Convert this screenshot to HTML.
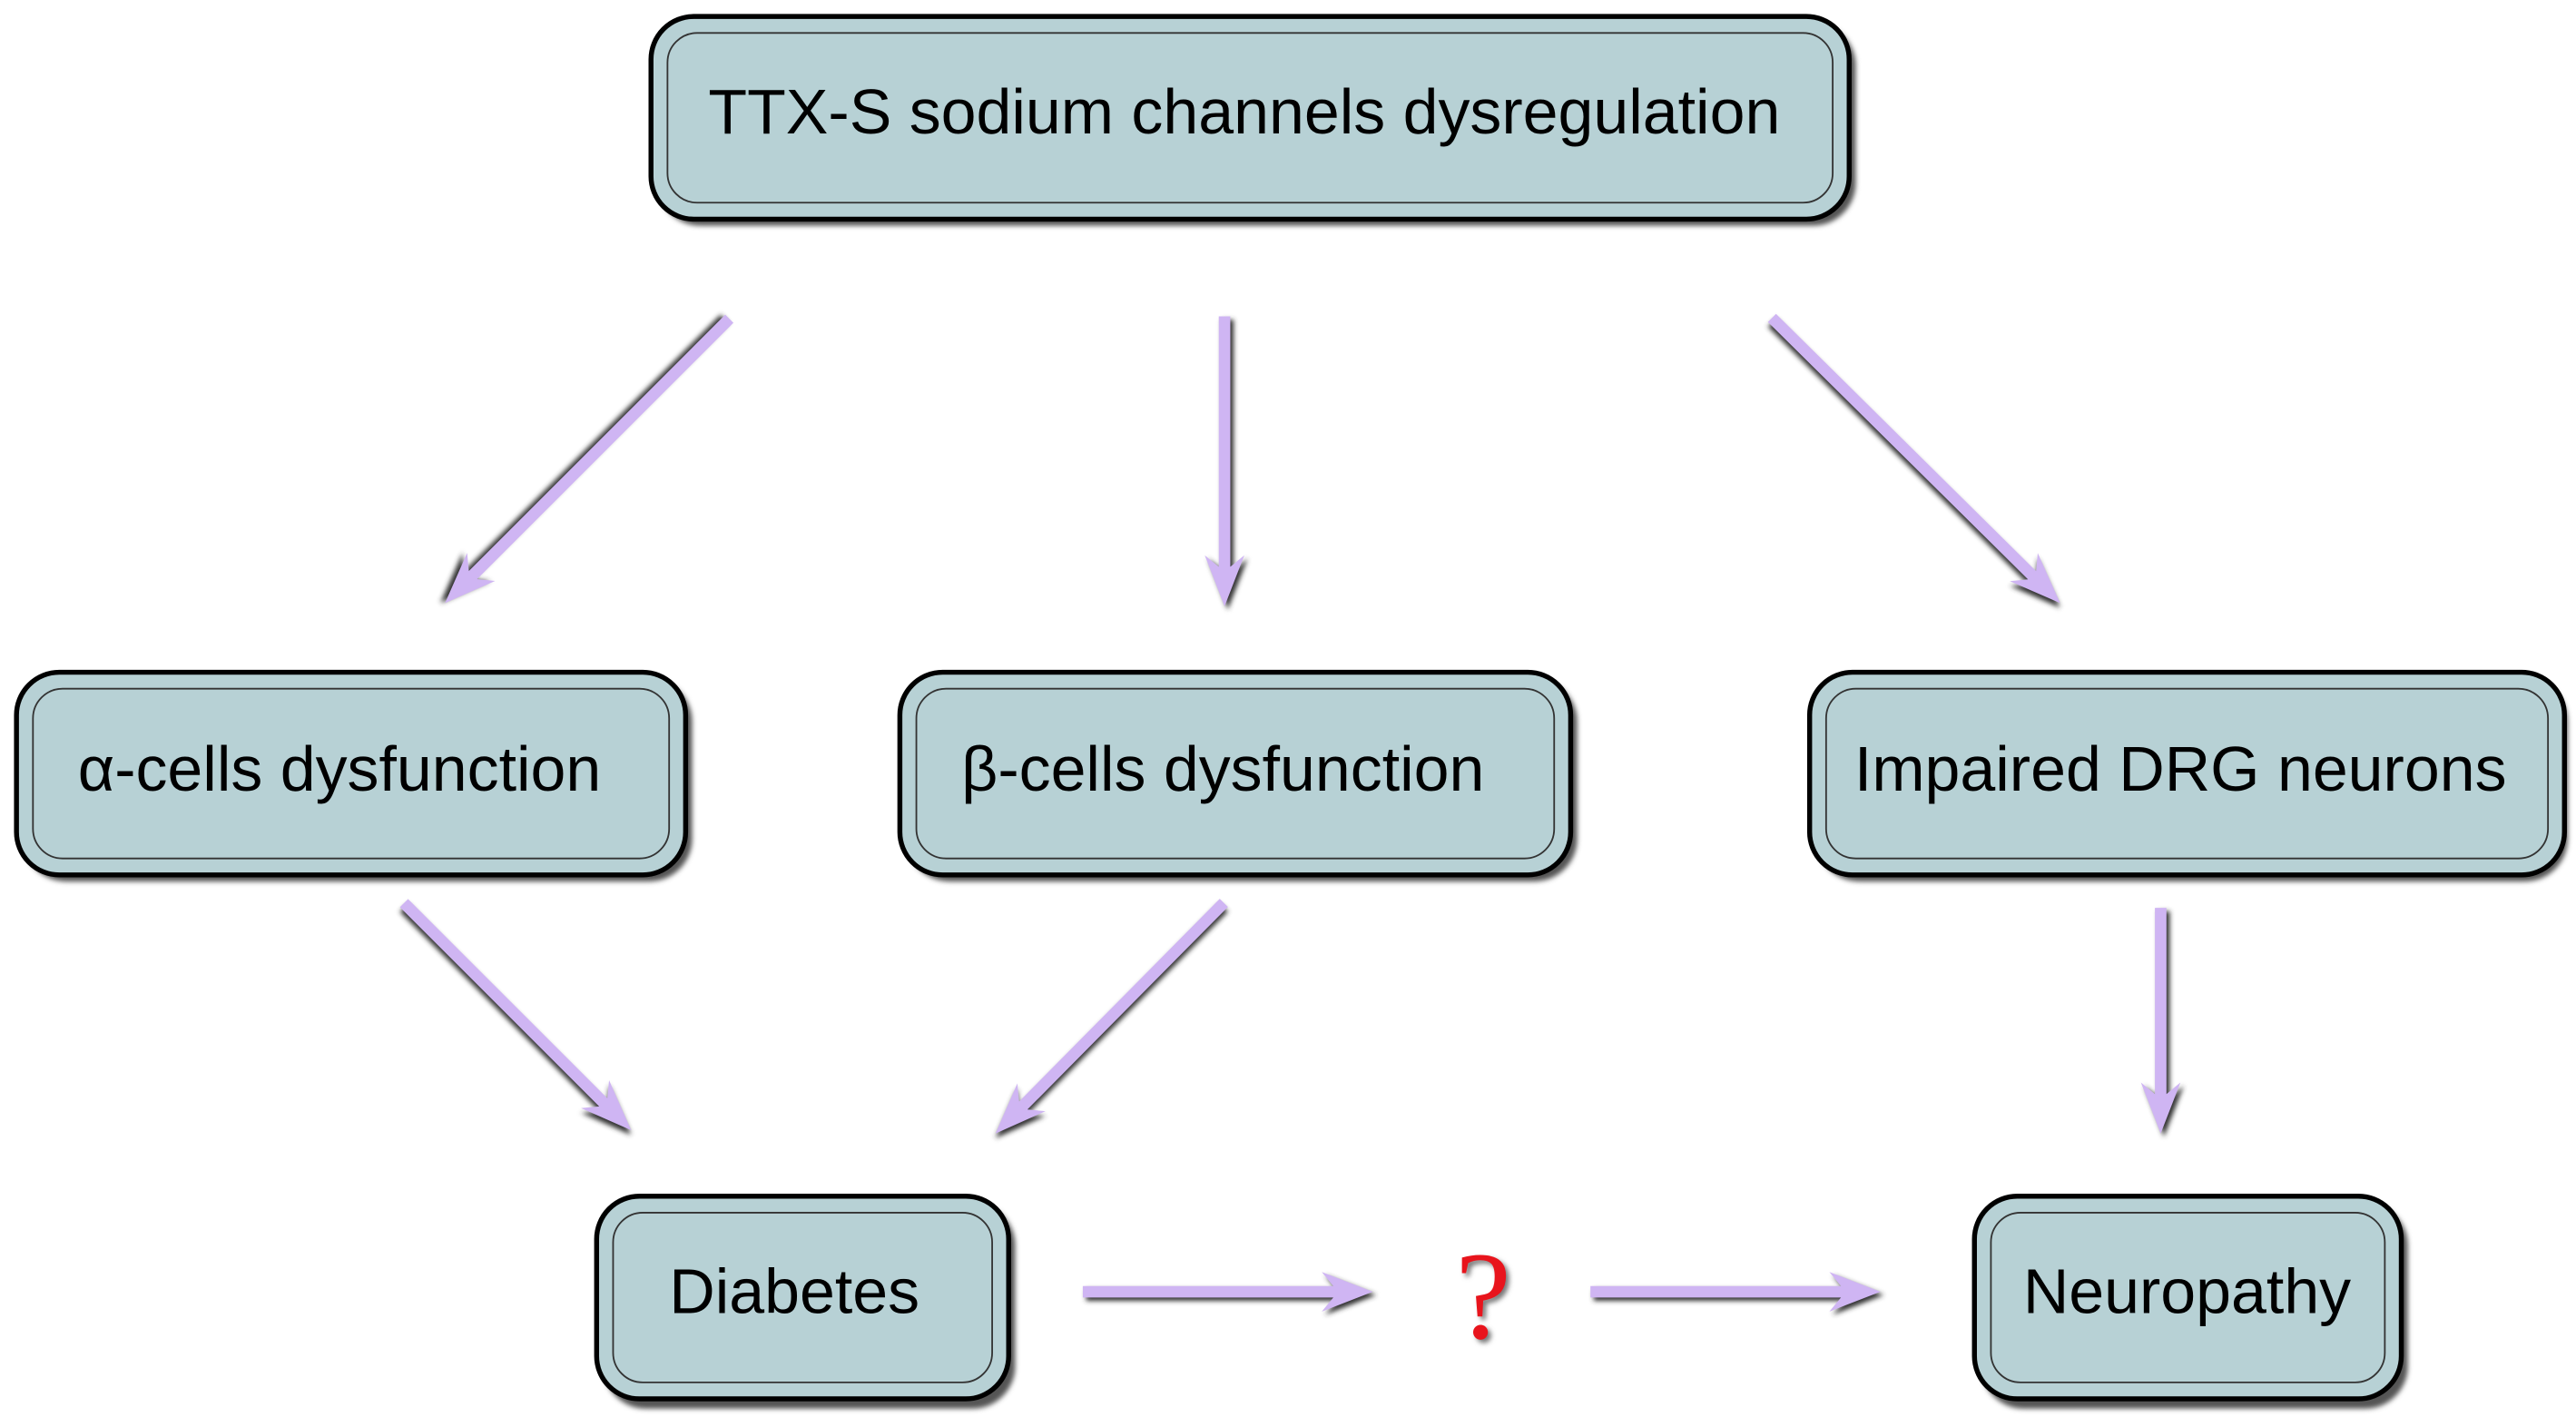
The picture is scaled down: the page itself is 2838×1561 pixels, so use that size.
<!DOCTYPE html>
<html><head><meta charset="utf-8"><style>
html,body{margin:0;padding:0;background:#fff;}
svg{display:block;}
text{font-family:"Liberation Sans",Arial,sans-serif;fill:#000;}
</style></head><body>
<svg width="2838" height="1561" viewBox="0 0 1563 860" preserveAspectRatio="none" xmlns="http://www.w3.org/2000/svg">
<defs>
<filter id="sh" x="-20%" y="-20%" width="140%" height="140%"><feGaussianBlur stdDeviation="1.5"/></filter>
</defs>
<g>
<rect x="399" y="14" width="727" height="123" rx="26" fill="#555" filter="url(#sh)"/>
<rect x="395" y="10" width="727" height="123" rx="26" fill="#b7d1d5" stroke="#000" stroke-width="3"/>
<rect x="405" y="20" width="707" height="103" rx="18" fill="none" stroke="#333" stroke-width="1"/>
<text x="755" y="81" font-size="38.5" text-anchor="middle">TTX-S sodium channels dysregulation</text>

<rect x="14" y="412" width="406" height="123" rx="26" fill="#555" filter="url(#sh)"/>
<rect x="10" y="408" width="406" height="123" rx="26" fill="#b7d1d5" stroke="#000" stroke-width="3"/>
<rect x="20" y="418" width="386" height="103" rx="18" fill="none" stroke="#333" stroke-width="1"/>
<text x="206" y="480" font-size="38.5" text-anchor="middle">α-cells dysfunction</text>

<rect x="550" y="412" width="407" height="123" rx="26" fill="#555" filter="url(#sh)"/>
<rect x="546" y="408" width="407" height="123" rx="26" fill="#b7d1d5" stroke="#000" stroke-width="3"/>
<rect x="556" y="418" width="387" height="103" rx="18" fill="none" stroke="#333" stroke-width="1"/>
<text x="742" y="480" font-size="38.5" text-anchor="middle">β-cells dysfunction</text>

<rect x="1102" y="412" width="456" height="123" rx="26" fill="#555" filter="url(#sh)"/>
<rect x="1098" y="408" width="458" height="123" rx="26" fill="#b7d1d5" stroke="#000" stroke-width="3"/>
<rect x="1108" y="418" width="438" height="103" rx="18" fill="none" stroke="#333" stroke-width="1"/>
<text x="1323" y="480" font-size="38.5" text-anchor="middle">Impaired DRG neurons</text>

<rect x="366" y="730" width="250" height="125" rx="26" fill="#555" filter="url(#sh)"/>
<rect x="362" y="726" width="250" height="123" rx="26" fill="#b7d1d5" stroke="#000" stroke-width="3"/>
<rect x="372" y="736" width="230" height="103" rx="18" fill="none" stroke="#333" stroke-width="1"/>
<text x="482" y="797" font-size="38.5" text-anchor="middle">Diabetes</text>

<rect x="1202" y="730" width="259" height="125" rx="26" fill="#555" filter="url(#sh)"/>
<rect x="1198" y="726" width="259" height="123" rx="26" fill="#b7d1d5" stroke="#000" stroke-width="3"/>
<rect x="1208" y="736" width="239" height="103" rx="18" fill="none" stroke="#333" stroke-width="1"/>
<text x="1327" y="797" font-size="38.5" text-anchor="middle">Neuropathy</text>
</g>

<g>
<g transform="translate(270,366) rotate(135)">
<polygon transform="translate(2,2)" points="0,0 -31,12 -24,3.5 -244,3.5 -244,-3.5 -24,-3.5 -31,-12" fill="#333" filter="url(#sh)"/>
<polygon points="0,0 -31,12 -24,3.5 -244,3.5 -244,-3.5 -24,-3.5 -31,-12" fill="#cfb5f3"/>
</g>
<g transform="translate(743,368) rotate(90)">
<polygon transform="translate(2,-2)" points="0,0 -31,12 -24,3.5 -176,3.5 -176,-3.5 -24,-3.5 -31,-12" fill="#333" filter="url(#sh)"/>
<polygon points="0,0 -31,12 -24,3.5 -176,3.5 -176,-3.5 -24,-3.5 -31,-12" fill="#cfb5f3"/>
</g>
<g transform="translate(1250,366) rotate(44.7)">
<polygon transform="translate(2,2)" points="0,0 -31,12 -24,3.5 -246,3.5 -246,-3.5 -24,-3.5 -31,-12" fill="#333" filter="url(#sh)"/>
<polygon points="0,0 -31,12 -24,3.5 -246,3.5 -246,-3.5 -24,-3.5 -31,-12" fill="#cfb5f3"/>
</g>
<g transform="translate(383,686) rotate(45)">
<polygon transform="translate(2,2)" points="0,0 -31,12 -24,3.5 -195,3.5 -195,-3.5 -24,-3.5 -31,-12" fill="#333" filter="url(#sh)"/>
<polygon points="0,0 -31,12 -24,3.5 -195,3.5 -195,-3.5 -24,-3.5 -31,-12" fill="#cfb5f3"/>
</g>
<g transform="translate(604,688) rotate(134.7)">
<polygon transform="translate(2,-2)" points="0,0 -31,12 -24,3.5 -197,3.5 -197,-3.5 -24,-3.5 -31,-12" fill="#333" filter="url(#sh)"/>
<polygon points="0,0 -31,12 -24,3.5 -197,3.5 -197,-3.5 -24,-3.5 -31,-12" fill="#cfb5f3"/>
</g>
<g transform="translate(1311,688) rotate(90)">
<polygon transform="translate(2,-2)" points="0,0 -31,12 -24,3.5 -137,3.5 -137,-3.5 -24,-3.5 -31,-12" fill="#333" filter="url(#sh)"/>
<polygon points="0,0 -31,12 -24,3.5 -137,3.5 -137,-3.5 -24,-3.5 -31,-12" fill="#cfb5f3"/>
</g>
<g transform="translate(833,784)">
<polygon transform="translate(2,2)" points="0,0 -31,12 -24,3.5 -176,3.5 -176,-3.5 -24,-3.5 -31,-12" fill="#333" filter="url(#sh)"/>
<polygon points="0,0 -31,12 -24,3.5 -176,3.5 -176,-3.5 -24,-3.5 -31,-12" fill="#cfb5f3"/>
</g>
<g transform="translate(1141,784)">
<polygon transform="translate(2,2)" points="0,0 -31,12 -24,3.5 -176,3.5 -176,-3.5 -24,-3.5 -31,-12" fill="#333" filter="url(#sh)"/>
<polygon points="0,0 -31,12 -24,3.5 -176,3.5 -176,-3.5 -24,-3.5 -31,-12" fill="#cfb5f3"/>
</g>
</g>
<text x="902" y="814" font-size="76" text-anchor="middle" filter="url(#sh)" style="fill:#777;font-family:'Liberation Serif',serif">?</text>
<text x="900" y="812" font-size="76" text-anchor="middle" style="fill:#e8141c;font-family:'Liberation Serif',serif">?</text>
</svg>
</body></html>
